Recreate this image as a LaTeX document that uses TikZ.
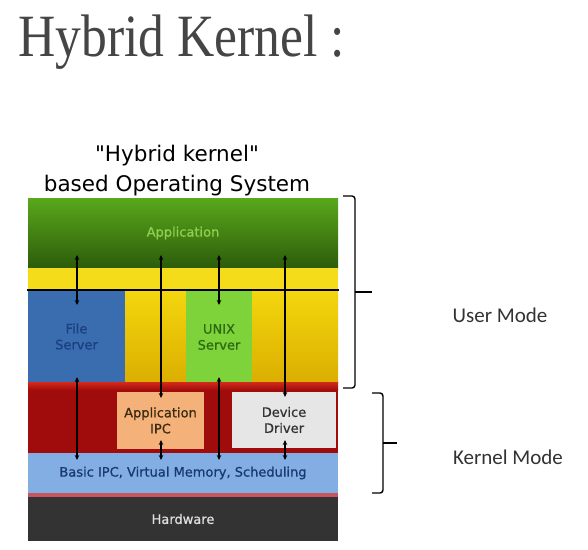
\documentclass[tikz,border=0pt]{standalone}
\usepackage{fontspec}
\setmainfont{DejaVu Sans}
\newfontfamily\titlefont{Liberation Serif}
\newfontfamily\modefont{Carlito}
\newfontfamily\capfont{DejaVu Sans}[Ligatures=ResetAll]
\newfontfamily\boxfont{DejaVu Sans}[FakeBold=0.8]
\usetikzlibrary{arrows.meta,positioning}

\definecolor{titlegray}{HTML}{454545}
\definecolor{apptop}{HTML}{5AA81C}
\definecolor{appbot}{HTML}{2C5C0A}
\definecolor{apptext}{HTML}{8FD14F}
\definecolor{ybar}{HTML}{F5DC1A}
\definecolor{ytop}{HTML}{F3D60E}
\definecolor{ybot}{HTML}{DBAE00}
\definecolor{fsblue}{HTML}{3A6CB0}
\definecolor{fstext}{HTML}{1E3F7F}
\definecolor{unixgreen}{HTML}{7ED23A}
\definecolor{unixtext}{HTML}{2D6A12}
\definecolor{kred}{HTML}{A00C0C}
\definecolor{kredtop}{HTML}{D42A1A}
\definecolor{ipcorange}{HTML}{F4B27A}
\definecolor{ipctext}{HTML}{3A2A10}
\definecolor{drvgray}{HTML}{E6E6E6}
\definecolor{basicblue}{HTML}{82AEE3}
\definecolor{basictext}{HTML}{173A70}
\definecolor{pinkline}{HTML}{C8545E}
\definecolor{hwgray}{HTML}{333333}
\definecolor{hwtext}{HTML}{E0E0E0}

\begin{document}
\begin{tikzpicture}[x=1pt,y=-1pt,
  layer/.style={anchor=north west, inner sep=0pt, outer sep=0pt, align=center,
    font=\boxfont\fontsize{13}{16}\selectfont},
  dlink/.style={line width=1.1pt, {Stealth[length=5pt,width=4.5pt]}-{Stealth[length=5pt,width=4.5pt]}},
  bracket/.style={line width=1.4pt, rounded corners=3pt},
  modelabel/.style={font=\modefont\fontsize{21}{24}\selectfont, text=black!80}]

  \useasboundingbox (0,0) rectangle (588,549);
  \fill[white] (0,0) rectangle (588,549);

  % title and caption
  \node[anchor=base west, inner sep=0pt, xscale=0.86, text=titlegray,
    font=\titlefont\fontsize{60}{60}\selectfont] (title) at (18,56) {Hybrid Kernel :};
  \node[anchor=base, inner sep=0pt, font=\capfont\fontsize{21.5}{26}\selectfont] (cap1) at (177,161)
    {"Hybrid kernel"};
  \node[anchor=base, inner sep=0pt, font=\capfont\fontsize{21.5}{26}\selectfont] (cap2) at (177,191) {based Operating System};

  % user space
  \node[layer, top color=apptop, bottom color=appbot, text=apptext,
    minimum width=310, minimum height=70] (app) at (28,198) {Application};
  \node[layer, fill=ybar, minimum width=310, minimum height=22] (yband) at (28,268) {};
  \node[layer, top color=ytop, bottom color=ybot, minimum width=310, minimum height=92] (yzone) at (28,291) {};
  \node[layer, fill=fsblue, text=fstext, minimum width=97, minimum height=91] (fs) at (28,291) {File\\Server};
  \node[layer, fill=unixgreen, text=unixtext, minimum width=66, minimum height=92] (unix) at (186,291) {UNIX\\Server};
  \draw[line width=2pt] (yband.south west) ++(-1,0) -- ([xshift=1pt]yband.south east);

  % kernel space
  \node[layer, fill=kred, minimum width=310, minimum height=71] (kernel) at (28,382) {};
  \node[layer, top color=kredtop, bottom color=kred, minimum width=310, minimum height=8] (ktop) at (28,382) {};
  \node[layer, fill=ipcorange, text=ipctext, minimum width=87, minimum height=57] (ipc) at (117,392) {Application\\IPC};
  \node[layer, fill=drvgray, text=black!80, minimum width=104, minimum height=56] (drv) at (232,392) {Device\\Driver};
  \node[layer, fill=basicblue, text=basictext, minimum width=310, minimum height=40] (basic) at (28,453)
    {Basic IPC, Virtual Memory, Scheduling};
  \node[layer, fill=pinkline, minimum width=310, minimum height=4] (edge) at (28,493) {};
  \node[layer, fill=hwgray, text=hwtext, minimum width=310, minimum height=44] (hw) at (28,497) {Hardware};

  % message paths
  \coordinate (c1) at (77,0);
  \coordinate (c2) at (161,0);
  \coordinate (c3) at (219,0);
  \coordinate (c4) at (285,0);

  \draw[dlink] ([yshift=13pt]app.south -| c1) -- ([yshift=-14pt]fs.north -| c1);
  \draw[dlink] ([yshift=5pt]fs.south -| c1) -- ([yshift=-7pt]basic.north -| c1);
  \draw[dlink] ([yshift=13pt]app.south -| c2) -- ([yshift=-6pt]ipc.north -| c2);
  \draw[dlink] ([yshift=9pt]ipc.south -| c2) -- ([yshift=-7pt]basic.north -| c2);
  \draw[dlink] ([yshift=13pt]app.south -| c3) -- ([yshift=-14pt]unix.north -| c3);
  \draw[dlink] ([yshift=6pt]unix.south -| c3) -- ([yshift=-7pt]basic.north -| c3);
  \draw[dlink] ([yshift=13pt]app.south -| c4) -- ([yshift=-5pt]drv.north -| c4);
  \draw[dlink] ([yshift=8pt]drv.south -| c4) -- ([yshift=-7pt]basic.north -| c4);

  % mode brackets
  \draw[bracket] (343,196) -- (355,196) -- (355,388) -- (343,388);
  \draw[line width=1.4pt] (355,292) -- (372,292);
  \draw[bracket] (372,393) -- (383,393) -- (383,493) -- (372,493);
  \draw[line width=1.4pt] (383,443) -- (397,443);

  \node[modelabel] (user) at (500,315) {User Mode};
  \node[modelabel] (kmode) at (508,457) {Kernel Mode};
\end{tikzpicture}
\end{document}
